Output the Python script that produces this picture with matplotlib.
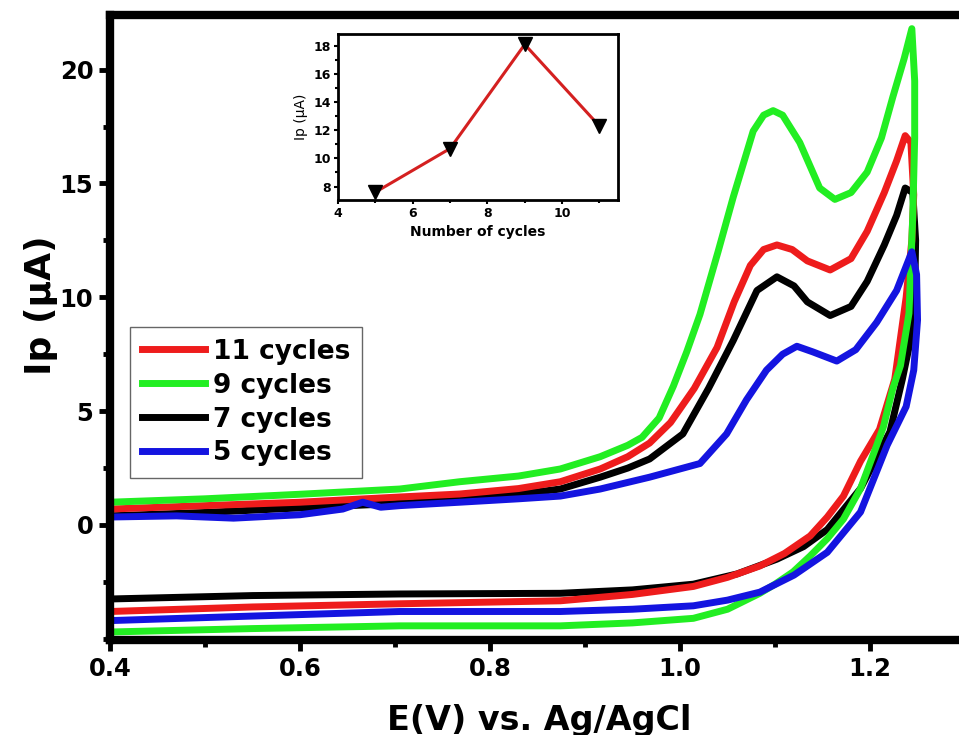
import numpy as np
import matplotlib
matplotlib.use("Agg")
import matplotlib.pyplot as plt
from matplotlib.ticker import MultipleLocator, FormatStrFormatter

plt.rcParams['font.family'] = ['DejaVu Sans']
plt.rcParams['font.weight'] = 'bold'

# 11 cycles (red): forward scan then reverse scan
e_11 = [0.40, 0.50, 0.60, 0.705, 0.768, 0.83, 0.874, 0.916, 0.945, 0.968, 0.99, 1.015, 1.039, 1.057,
        1.074, 1.088, 1.102, 1.118, 1.134, 1.158, 1.18, 1.197, 1.215, 1.228, 1.237,
        1.243, 1.246, 1.244, 1.238, 1.226, 1.21, 1.19, 1.172, 1.155, 1.137, 1.11, 1.084, 1.05, 1.014,
        0.95, 0.874, 0.705, 0.55, 0.40]
i_11 = [0.7, 0.85, 1.0, 1.23, 1.36, 1.6, 1.9, 2.46, 3.0, 3.6, 4.5, 6.0, 7.8, 9.8,
        11.4, 12.1, 12.3, 12.1, 11.6, 11.2, 11.7, 12.9, 14.6, 16.0, 17.1,
        16.8, 14.5, 12.5, 10.0, 6.4, 4.2, 2.8, 1.27, 0.35, -0.48, -1.25, -1.8, -2.3, -2.7,
        -3.05, -3.33, -3.46, -3.6, -3.8]

# 9 cycles (green)
e_9 = [0.40, 0.50, 0.60, 0.705, 0.768, 0.83, 0.874, 0.916, 0.945, 0.96, 0.978, 0.993, 1.007, 1.021,
       1.04, 1.056, 1.077, 1.088, 1.098, 1.108, 1.126, 1.147, 1.163, 1.18, 1.197, 1.212, 1.224,
       1.236, 1.244,
       1.247, 1.247, 1.245, 1.241, 1.232, 1.224, 1.214, 1.207, 1.19, 1.172, 1.155, 1.137, 1.119, 1.10,
       1.084, 1.05, 1.014, 0.95, 0.874, 0.705, 0.55, 0.40]
i_9 = [1.0, 1.15, 1.35, 1.58, 1.9, 2.15, 2.46, 3.0, 3.5, 3.85, 4.7, 6.1, 7.6, 9.25,
       12.0, 14.4, 17.3, 18.0, 18.2, 18.0, 16.8, 14.8, 14.3, 14.6, 15.5, 17.0, 18.8,
       20.5, 21.8,
       19.5, 17.0, 13.6, 9.3, 7.0, 6.0, 4.3, 3.5, 1.6, 0.26, -0.6, -1.36, -2.06, -2.6,
       -3.0, -3.7, -4.1, -4.3, -4.43, -4.43, -4.55, -4.7]

# 7 cycles (black)
e_7 = [0.40, 0.50, 0.60, 0.705, 0.768, 0.83, 0.874, 0.916, 0.945, 0.968, 1.003, 1.03, 1.056, 1.081,
       1.102, 1.12, 1.134, 1.158, 1.18, 1.197, 1.215, 1.228, 1.237,
       1.245, 1.248, 1.247, 1.242, 1.234, 1.221, 1.205, 1.19, 1.155, 1.13, 1.102, 1.06, 1.014,
       0.95, 0.874, 0.705, 0.55, 0.40]
i_7 = [0.4, 0.55, 0.75, 0.95, 1.1, 1.35, 1.58, 2.1, 2.5, 2.9, 4.0, 6.0, 8.1, 10.3,
       10.9, 10.5, 9.8, 9.2, 9.6, 10.7, 12.3, 13.6, 14.8,
       14.6, 12.5, 10.0, 8.0, 6.4, 4.1, 2.8, 1.6, -0.2, -0.95, -1.5, -2.15, -2.6,
       -2.85, -3.0, -3.03, -3.1, -3.25]

# 5 cycles (blue)
e_5 = [0.40, 0.47, 0.53, 0.60, 0.645, 0.666, 0.685, 0.705, 0.768, 0.83, 0.874, 0.916, 0.968, 1.021,
       1.049, 1.07, 1.091, 1.108, 1.123, 1.14, 1.165, 1.185, 1.207, 1.228, 1.244,
       1.249, 1.25, 1.246, 1.238, 1.218, 1.19, 1.155, 1.12, 1.084, 1.05, 1.014, 0.95, 0.874,
       0.705, 0.55, 0.40]
i_5 = [0.35, 0.40, 0.30, 0.45, 0.7, 1.0, 0.78, 0.85, 1.0, 1.15, 1.27, 1.58, 2.1, 2.7,
       4.0, 5.5, 6.8, 7.5, 7.85, 7.6, 7.2, 7.7, 8.9, 10.3, 12.0,
       11.0, 9.0, 6.8, 5.2, 3.5, 0.57, -1.2, -2.2, -2.95, -3.3, -3.55, -3.7, -3.8,
       -3.8, -4.0, -4.2]

# inset: peak current vs number of cycles
cycles = [5, 7, 9, 11]
ip_peak = [7.6, 10.7, 18.1, 12.3]

fig = plt.figure(figsize=(9.59, 7.35), dpi=100)
ax = fig.add_axes([0.1147, 0.1293, 0.8916, 0.8503])

ax.plot(e_7, i_7, color='black', lw=5, solid_joinstyle='round', label='7 cycles')
ax.plot(e_11, i_11, color='#ee1c1c', lw=5, solid_joinstyle='round', label='11 cycles')
ax.plot(e_9, i_9, color='#22ee22', lw=5, solid_joinstyle='round', label='9 cycles')
ax.plot(e_5, i_5, color='#1414e0', lw=5, solid_joinstyle='round', label='5 cycles')

ax.set_xlim(0.4, 1.3)
ax.set_ylim(-5.05, 22.4)
ax.set_xticks([0.4, 0.6, 0.8, 1.0, 1.2])
ax.xaxis.set_major_formatter(FormatStrFormatter('%.1f'))
ax.xaxis.set_minor_locator(MultipleLocator(0.1))
ax.set_yticks([0, 5, 10, 15, 20])
ax.yaxis.set_minor_locator(MultipleLocator(2.5))
ax.tick_params(which='major', length=8, width=3.5, labelsize=17.5, pad=4)
ax.tick_params(which='minor', length=5, width=3.5)
for s in ax.spines.values():
    s.set_linewidth(6)

ax.set_xlabel('E(V) vs. Ag/AgCl', fontsize=24, fontweight='bold')
ax.set_ylabel('Ip (\u03bcA)', fontsize=26, fontweight='bold')
ax.xaxis.set_label_coords(0.502, -0.103)
ax.yaxis.set_label_coords(-0.061, 0.536)

h, l = ax.get_legend_handles_labels()
order = [1, 2, 0, 3]
leg = ax.legend([h[k] for k in order], [l[k] for k in order], loc='upper left',
                bbox_to_anchor=(0.023, 0.501), borderaxespad=0, fancybox=False,
                edgecolor='#666666', fontsize=19, handlelength=2.4, handletextpad=0.3,
                labelspacing=0.3, borderpad=0.45, framealpha=1)
leg.get_frame().set_linewidth(1.0)

# inset
axi = fig.add_axes([0.3525, 0.728, 0.292, 0.2259])
axi.plot(cycles, ip_peak, color='#d42020', lw=2.2, marker='v', markersize=10,
         markerfacecolor='black', markeredgecolor='black')
axi.set_xlim(4, 11.5)
axi.set_ylim(7.05, 18.85)
axi.xaxis.set_major_locator(MultipleLocator(2))
axi.xaxis.set_minor_locator(MultipleLocator(1))
axi.yaxis.set_major_locator(MultipleLocator(2))
axi.yaxis.set_minor_locator(MultipleLocator(1))
axi.tick_params(which='major', length=3, width=1.5, labelsize=9, pad=2)
axi.tick_params(which='minor', length=2, width=1.5)
for s in axi.spines.values():
    s.set_linewidth(2)
axi.set_xlabel('Number of cycles', fontsize=10, fontweight='bold')
axi.set_ylabel('Ip (\u03bcA)', fontsize=10, fontweight='normal')

fig.savefig('out.png', dpi=100)
